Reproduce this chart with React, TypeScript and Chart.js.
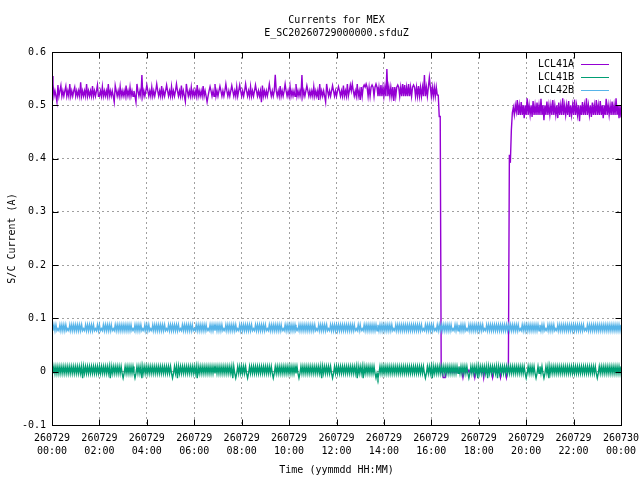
import { useEffect, useRef } from "react";
import { Chart, registerables } from "chart.js";

Chart.register(...registerables);

const FONT = "'DejaVu Sans Mono', monospace";

const titleLines = ["Currents for MEX", "E_SC20260729000000.sfduZ"];
const xAxisTitle = "Time (yymmdd HH:MM)";
const yAxisTitle = "S/C Current (A)";

const seriesNames = ["LCL41A", "LCL41B", "LCL42B"];
const seriesColors = ["#9400d3", "#009e73", "#56b4e9"];

const xTickHours = [0, 2, 4, 6, 8, 10, 12, 14, 16, 18, 20, 22, 24];
const xTickDates = ["260729", "260729", "260729", "260729", "260729", "260729", "260729", "260729", "260729", "260729", "260729", "260729", "260730"];
const xTickTimes = ["00:00", "02:00", "04:00", "06:00", "08:00", "10:00", "12:00", "14:00", "16:00", "18:00", "20:00", "22:00", "00:00"];

const yTickValues = [-0.1, 0, 0.1, 0.2, 0.3, 0.4, 0.5, 0.6];
const yTickLabels = ["-0.1", "0", "0.1", "0.2", "0.3", "0.4", "0.5", "0.6"];

// one sample every 2.5 minutes from 260729 00:00 (x in hours); values in mA, one row per hour
const sampleStepHours = 2.5 / 60;

const lcl41aMilliamps = [
  555, 540, 517, 527, 517, 506, 538, 517, 527, 537, 517, 527, 517, 527, 536, 517, 527, 517, 540, 517, 527, 517, 527, 534,
  517, 527, 517, 527, 517, 543, 517, 527, 517, 527, 517, 540, 517, 527, 517, 527, 517, 536, 517, 527, 517, 527, 538, 517,
  517, 527, 517, 535, 517, 527, 517, 527, 517, 540, 517, 527, 517, 527, 517, 506, 537, 527, 517, 527, 517, 535, 517, 527,
  517, 527, 517, 537, 517, 527, 517, 534, 517, 527, 517, 527, 517, 506, 540, 527, 517, 527, 517, 557, 517, 527, 517, 527,
  538, 527, 517, 527, 517, 534, 517, 527, 517, 527, 540, 527, 517, 527, 517, 536, 517, 527, 517, 527, 538, 527, 517, 527,
  517, 535, 517, 527, 517, 527, 540, 527, 517, 527, 517, 537, 517, 527, 517, 507, 540, 527, 517, 527, 517, 534, 517, 527,
  517, 527, 517, 538, 517, 527, 517, 527, 517, 536, 517, 527, 517, 506, 517, 527, 535, 527, 517, 527, 517, 540, 517, 527,
  517, 527, 536, 527, 517, 527, 517, 527, 540, 527, 517, 527, 517, 527, 537, 527, 517, 527, 517, 535, 517, 527, 538, 527,
  517, 527, 517, 527, 540, 527, 517, 527, 517, 535, 517, 527, 517, 527, 538, 527, 517, 527, 517, 527, 506, 537, 517, 527,
  517, 527, 517, 527, 540, 527, 517, 527, 517, 527, 557, 527, 517, 527, 517, 536, 517, 527, 517, 527, 540, 527, 517, 527,
  517, 535, 517, 527, 517, 527, 517, 540, 517, 527, 517, 527, 517, 557, 517, 527, 517, 527, 537, 527, 517, 527, 517, 527,
  517, 535, 517, 527, 517, 527, 510, 540, 517, 527, 517, 527, 517, 506, 540, 527, 517, 527, 517, 527, 537, 527, 517, 527,
  517, 527, 535, 527, 517, 527, 517, 537, 517, 527, 517, 540, 517, 527, 538, 527, 540, 527, 517, 527, 517, 540, 517, 527,
  510, 534, 517, 534, 538, 534, 540, 534, 517, 534, 517, 534, 538, 534, 517, 534, 540, 534, 517, 534, 517, 538, 517, 534,
  517, 534, 517, 568, 517, 534, 517, 534, 517, 534, 508, 534, 517, 534, 538, 534, 517, 534, 517, 540, 517, 538, 517, 534,
  517, 540, 517, 534, 517, 534, 538, 534, 517, 534, 517, 536, 517, 534, 517, 534, 517, 557, 517, 534, 517, 534, 552, 534,
  517, 534, 517, 534, 517, 534, 519, 519, 479, 479, 0, 3, -11, -11, -11, -1, 3, -1, 3, -1, 3, -1, 3, -1,
  3, -1, 3, -1, 3, -1, 3, -1, -11, -1, 3, -1, 3, -1, 3, -1, 3, -1, 3, -1, -11, -1, 3, -1,
  3, -1, 3, -1, 3, -11, 3, -1, 3, -1, 3, -1, 3, -1, -11, -1, 3, -1, 3, -1, 3, -1, -11, -1,
  3, -1, 3, -1, -11, -1, 3, 407, 392, 453, 486, 496, 482, 500, 488, 510, 482, 500, 482, 506, 482, 500, 476, 500,
  482, 513, 482, 500, 482, 500, 478, 508, 482, 500, 482, 505, 482, 500, 482, 512, 482, 500, 472, 500, 482, 507, 482, 500,
  482, 500, 482, 510, 482, 500, 482, 500, 476, 505, 482, 500, 482, 513, 482, 500, 482, 500, 482, 508, 478, 500, 482, 500,
  482, 511, 482, 500, 482, 500, 470, 500, 482, 506, 482, 500, 482, 513, 482, 500, 482, 500, 478, 505, 482, 500, 482, 510,
  482, 500, 482, 508, 482, 500, 476, 500, 482, 512, 482, 500, 482, 500, 482, 507, 482, 500, 482, 513, 482, 500, 476, 500,
  477,
];

const lcl41bMilliamps = [
  10, -3, 10, -3, 10, -3, 10, -3, 10, -3, 10, -3, 10, -3, 10, -3, 10, -3, 10, -3, 10, -3, 10, -3,
  10, -3, 10, -3, 10, -3, 10, -12, 10, -3, 10, -3, 10, -3, 10, -3, 10, -3, 10, -3, 10, -3, 10, -3,
  10, -3, 10, -3, 10, -3, 10, -3, 10, -3, 10, -12, 10, -3, 10, -3, 10, -3, 10, -3, 10, -3, 10, -3,
  -12, -3, 10, -3, 10, -3, 10, -3, 10, -3, 10, -3, -12, -3, 10, -3, 10, -3, 10, -12, 10, -3, 10, -3,
  10, -3, 10, -3, 10, -3, 10, -3, 10, -3, 10, -3, 10, -3, 10, -3, 10, -3, 10, -3, 10, -3, 10, -3,
  10, -3, -12, -3, 10, -3, 10, -12, 10, -3, 10, -3, 10, -3, 10, -3, 10, -3, 10, -3, 10, -3, 10, -3,
  10, -3, 10, -12, 10, -3, 10, -3, 10, -3, 10, -3, 10, -3, 10, -3, 10, -3, 10, -3, 10, -3, 10, -3,
  10, -3, 10, -3, 10, -3, 10, -3, 10, -3, 10, -3, 10, -3, 10, -12, 10, -3, -12, -3, 10, -3, 10, -3,
  10, -3, 10, -3, 10, -3, -12, -3, 10, -3, 10, -3, 10, -3, 10, -3, 10, -3, 10, -3, 10, -3, 10, -3,
  10, -3, 10, -3, 10, -3, 10, -3, -12, -3, 10, -3, 10, -3, 10, -3, 10, -3, 10, -3, 10, -3, 10, -3,
  10, -3, 10, -3, 10, -3, 10, -3, 10, -3, -12, -3, 10, -3, 10, -3, 10, -3, 10, -3, 10, -3, 10, -3,
  10, -3, 10, -3, 10, -3, 10, -3, 10, -12, 10, -3, 10, -3, 10, -3, 10, -3, 10, -3, -12, -3, 10, -3,
  10, -3, 10, -3, 10, -3, 10, -3, 10, -3, 10, -3, 10, -3, 10, -3, 10, -3, 10, -3, 10, -12, 10, -3,
  10, -3, 10, -12, 10, -3, 10, -3, 10, -3, 10, -3, 10, -3, 10, -3, -12, -3, -12, -3, 10, -3, 10, -3,
  10, -3, 10, -3, 10, -3, 10, -3, 10, -3, 10, -3, 10, -3, 10, -3, 10, -3, 10, -3, 10, -3, 10, -3,
  10, -3, 10, -3, 10, -3, 10, -3, 10, -3, 10, -3, 10, -3, 10, -3, 10, -3, -12, -3, 10, -3, 10, -3,
  10, -12, 10, -3, 10, -3, 10, -3, 10, -3, 10, -3, 10, -3, 10, -3, 10, -3, 10, -3, 10, -3, 10, -3,
  10, -3, 10, -3, 10, -3, 10, -3, 10, -3, 10, -3, 10, -3, -12, -3, 10, -3, 10, -3, 10, -3, 10, -12,
  10, -3, 10, -3, 10, -3, 10, -3, 10, -12, 10, -3, 10, -3, 10, -3, 10, -3, 10, -12, 10, -3, 10, -3,
  10, -3, 10, -3, 10, -3, 10, -3, 10, -3, 10, -3, 10, -3, 10, -3, 10, -3, 10, -3, 10, -3, 10, -3,
  -12, -3, 10, -3, 10, -3, 10, -3, 10, -3, -12, -3, 10, -3, 10, -3, 10, -3, -12, -3, 10, -3, 10, -12,
  10, -3, 10, -3, 10, -3, 10, -3, 10, -3, 10, -3, 10, -3, 10, -3, 10, -3, 10, -3, 10, -3, 10, -3,
  10, -3, 10, -3, 10, -3, 10, -3, 10, -3, 10, -3, 10, -3, 10, -3, 10, -3, 10, -3, 10, -3, 10, -3,
  -12, -3, 10, -3, 10, -3, 10, -3, 10, -3, 10, -3, 10, -3, 10, -3, 10, -3, 10, -3, 10, -3, 10, -3,
  10,
];

const lcl42bMilliamps = [
  88, 77, 88, 77, 88, 77, 81, 77, 88, 77, 88, 77, 88, 77, 88, 77, 81, 77, 88, 77, 88, 77, 88, 77,
  88, 77, 88, 77, 88, 77, 88, 77, 81, 77, 88, 77, 88, 77, 88, 77, 88, 77, 88, 77, 81, 77, 88, 77,
  88, 77, 81, 77, 88, 77, 88, 77, 88, 77, 88, 77, 88, 77, 81, 77, 88, 77, 88, 77, 88, 77, 88, 77,
  88, 77, 88, 77, 88, 77, 88, 77, 88, 77, 81, 77, 88, 77, 88, 77, 88, 77, 88, 77, 81, 77, 88, 77,
  88, 77, 88, 77, 81, 77, 88, 77, 88, 77, 88, 77, 88, 77, 88, 77, 88, 77, 88, 77, 81, 77, 88, 77,
  88, 77, 88, 77, 88, 77, 88, 77, 88, 77, 81, 77, 88, 77, 88, 77, 88, 77, 88, 77, 88, 77, 88, 77,
  81, 77, 88, 77, 88, 77, 88, 77, 88, 77, 88, 77, 88, 77, 81, 77, 88, 77, 88, 77, 88, 77, 88, 77,
  88, 77, 88, 77, 88, 77, 81, 77, 88, 77, 88, 77, 88, 77, 88, 77, 88, 77, 88, 77, 81, 77, 88, 77,
  88, 77, 88, 77, 88, 77, 88, 77, 88, 77, 88, 77, 81, 77, 88, 77, 88, 77, 88, 77, 88, 77, 88, 77,
  88, 77, 81, 77, 88, 77, 88, 77, 88, 77, 88, 77, 88, 77, 88, 77, 88, 77, 81, 77, 88, 77, 88, 77,
  88, 77, 88, 77, 88, 77, 88, 77, 81, 77, 88, 77, 88, 77, 88, 77, 88, 77, 88, 77, 88, 77, 88, 77,
  88, 77, 88, 77, 81, 77, 88, 77, 88, 77, 88, 77, 88, 77, 88, 77, 81, 77, 88, 77, 88, 77, 88, 77,
  88, 77, 88, 77, 88, 77, 88, 77, 88, 77, 88, 77, 88, 77, 88, 77, 88, 77, 88, 77, 81, 77, 88, 77,
  88, 77, 81, 77, 88, 77, 88, 77, 88, 77, 88, 77, 88, 77, 88, 77, 88, 77, 88, 77, 88, 77, 88, 77,
  88, 77, 88, 77, 88, 77, 88, 77, 88, 77, 81, 77, 88, 77, 88, 77, 88, 77, 88, 77, 88, 77, 88, 77,
  88, 77, 88, 77, 88, 77, 88, 77, 88, 77, 88, 77, 88, 77, 88, 77, 81, 77, 88, 77, 88, 77, 88, 77,
  88, 77, 88, 77, 81, 77, 88, 77, 88, 77, 88, 77, 88, 77, 88, 77, 88, 77, 88, 77, 88, 77, 81, 77,
  88, 77, 88, 77, 88, 77, 88, 77, 88, 77, 88, 77, 81, 77, 88, 77, 88, 77, 88, 77, 88, 77, 88, 77,
  88, 77, 88, 77, 88, 77, 81, 77, 88, 77, 88, 77, 88, 77, 88, 77, 88, 77, 88, 77, 88, 77, 88, 77,
  88, 77, 88, 77, 88, 77, 88, 77, 88, 77, 88, 77, 88, 77, 88, 77, 88, 77, 81, 77, 88, 77, 88, 77,
  88, 77, 88, 77, 88, 77, 88, 77, 88, 77, 88, 77, 88, 77, 88, 77, 88, 77, 88, 77, 81, 77, 88, 77,
  88, 77, 88, 77, 88, 77, 81, 77, 88, 77, 88, 77, 88, 77, 88, 77, 88, 77, 88, 77, 88, 77, 88, 77,
  88, 77, 88, 77, 88, 77, 88, 77, 88, 77, 88, 77, 81, 77, 88, 77, 88, 77, 88, 77, 88, 77, 88, 77,
  88, 77, 88, 77, 88, 77, 88, 77, 88, 77, 88, 77, 88, 77, 88, 77, 88, 77, 88, 77, 88, 77, 88, 77,
  88,
];

const seriesMilliamps = [lcl41aMilliamps, lcl41bMilliamps, lcl42bMilliamps];

const toPoints = (values: number[]) =>
  values.map((v, i) => ({ x: i * sampleStepHours, y: v / 1000 }));

const gnuplotDecor = {
  id: "gnuplotDecor",
  afterDatasetsDraw(chart: any) {
    const { ctx, chartArea: a, scales } = chart;
    const L = Math.round(a.left) + 0.5;
    const R = Math.round(a.right) + 0.5;
    const T = Math.round(a.top) + 0.5;
    const B = Math.round(a.bottom) + 0.5;
    ctx.save();
    ctx.strokeStyle = "#000";
    ctx.lineWidth = 1;
    ctx.setLineDash([]);
    const tl = 6;
    ctx.beginPath();
    for (const t of scales.x.ticks) {
      const px = Math.round(scales.x.getPixelForValue(t.value)) + 0.5;
      ctx.moveTo(px, B);
      ctx.lineTo(px, B - tl);
      ctx.moveTo(px, T);
      ctx.lineTo(px, T + tl);
    }
    for (const t of scales.y.ticks) {
      const py = Math.round(scales.y.getPixelForValue(t.value)) + 0.5;
      ctx.moveTo(L, py);
      ctx.lineTo(L + tl, py);
      ctx.moveTo(R, py);
      ctx.lineTo(R - tl, py);
    }
    ctx.stroke();
    ctx.strokeRect(L, T, R - L, B - T);

    ctx.fillStyle = "#000";
    ctx.font = `10px ${FONT}`;
    ctx.textAlign = "center";
    ctx.textBaseline = "middle";
    const cx = (a.left + a.right) / 2;
    ctx.fillText(titleLines[0], cx, 20.5);
    ctx.fillText(titleLines[1], cx, 33.5);

    ctx.textAlign = "right";
    chart.data.datasets.forEach((ds: any, i: number) => {
      const y = 64 + i * 13;
      ctx.fillStyle = "#000";
      ctx.fillText(ds.label, 574, y + 0.5);
      ctx.strokeStyle = ds.borderColor;
      ctx.lineWidth = 1;
      ctx.beginPath();
      ctx.moveTo(581, y + 0.5);
      ctx.lineTo(609, y + 0.5);
      ctx.stroke();
    });
    ctx.restore();
  },
};

export default function App() {
  const ref = useRef<HTMLCanvasElement | null>(null);

  useEffect(() => {
    if (!ref.current) return;
    const chart = new Chart(ref.current, {
      type: "line",
      data: {
        datasets: seriesNames.map((name, i) => ({
          label: name,
          data: toPoints(seriesMilliamps[i]),
          borderColor: seriesColors[i],
          backgroundColor: seriesColors[i],
          borderWidth: 1.4,
          pointRadius: 0,
          tension: 0,
          fill: false,
          order: 3 - i,
        })),
      },
      options: {
        responsive: false,
        animation: false,
        devicePixelRatio: 1,
        events: [],
        parsing: false as any,
        normalized: true,
        layout: { padding: { top: 52, right: 19, left: 0, bottom: 0 } },
        plugins: {
          legend: { display: false },
          title: { display: false },
          tooltip: { enabled: false },
        },
        scales: {
          x: {
            type: "linear",
            min: 0,
            max: 24,
            afterBuildTicks: (s: any) => {
              s.ticks = xTickHours.map((v) => ({ value: v }));
            },
            afterFit: (s: any) => {
              s.height = 55;
              s.paddingLeft = 0;
              s.paddingRight = 0;
            },
            ticks: {
              autoSkip: false,
              maxRotation: 0,
              minRotation: 0,
              padding: 7,
              color: "#000",
              font: { family: FONT, size: 10, lineHeight: 1.3 },
              callback: (v: any) => {
                const k = xTickHours.indexOf(Number(v));
                return [xTickDates[k], xTickTimes[k]];
              },
            },
            grid: { color: "#a0a0a0", lineWidth: 1, drawTicks: false },
            border: { display: false, dash: [2, 3] },
            title: {
              display: true,
              text: xAxisTitle,
              color: "#000",
              font: { family: FONT, size: 10, lineHeight: 1.2 },
              padding: { top: 0, bottom: 4 },
            },
          },
          y: {
            type: "linear",
            min: -0.1,
            max: 0.6,
            afterBuildTicks: (s: any) => {
              s.ticks = yTickValues.map((v) => ({ value: v }));
            },
            afterFit: (s: any) => {
              s.width = 52;
              s.paddingTop = 0;
              s.paddingBottom = 0;
            },
            ticks: {
              padding: 6,
              color: "#000",
              font: { family: FONT, size: 10 },
              callback: (v: any) => {
                const k = yTickValues.findIndex((t) => Math.abs(t - Number(v)) < 1e-9);
                return yTickLabels[k];
              },
            },
            grid: { color: "#a0a0a0", lineWidth: 1, drawTicks: false },
            border: { display: false, dash: [2, 3] },
            title: {
              display: true,
              text: yAxisTitle,
              color: "#000",
              font: { family: FONT, size: 10, lineHeight: 1.2 },
              padding: { top: 6, bottom: 0 },
            },
          },
        },
      },
      plugins: [gnuplotDecor],
    } as any);
    return () => chart.destroy();
  }, []);

  return (
    <div style={{ position: "fixed", left: 0, top: 0, width: 640, height: 480, background: "#fff" }}>
      <canvas ref={ref} width={640} height={480} style={{ display: "block", width: 640, height: 480 }} />
    </div>
  );
}
